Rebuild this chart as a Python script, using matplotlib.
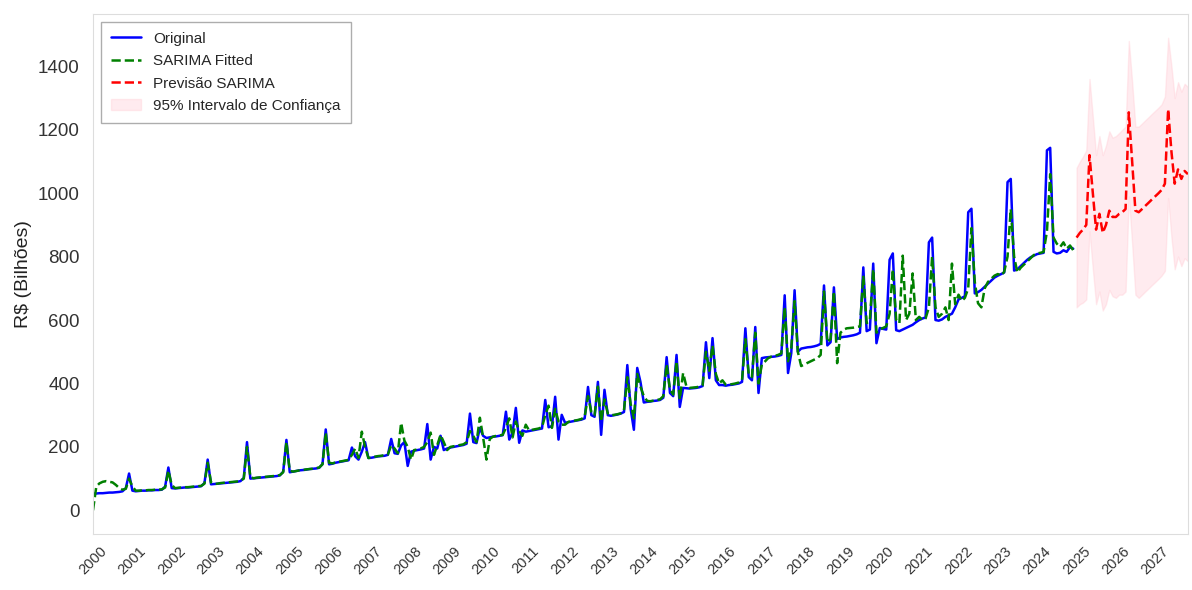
import matplotlib
matplotlib.use("Agg")
import matplotlib.pyplot as plt
import seaborn as sns
import pandas as pd

# monthly values, R$ billions, one row per year
original_values = [
    52, 53, 54, 54, 55, 56, 56, 57, 58, 60, 70, 116,            # 2000
    62, 60, 61, 62, 62, 63, 63, 64, 64, 65, 75, 135,            # 2001
    70, 69, 70, 71, 72, 72, 73, 74, 75, 76, 86, 160,            # 2002
    82, 83, 84, 85, 86, 87, 88, 89, 90, 92, 102, 215,           # 2003
    100, 101, 102, 103, 104, 105, 106, 107, 108, 110, 122, 222, # 2004
    120, 122, 124, 126, 127, 128, 130, 131, 132, 134, 146, 255, # 2005
    145, 147, 150, 152, 154, 156, 158, 198, 170, 160, 185, 215, # 2006
    165, 166, 168, 170, 171, 172, 175, 225, 180, 178, 205, 215, # 2007
    140, 185, 188, 190, 192, 195, 272, 160, 200, 195, 235, 190, # 2008
    195, 198, 200, 202, 204, 206, 210, 305, 215, 212, 260, 235, # 2009
    228, 230, 232, 233, 235, 237, 311, 223, 245, 323, 213, 252, # 2010
    248, 250, 252, 254, 256, 258, 348, 262, 265, 358, 223, 301, # 2011
    276, 278, 280, 282, 284, 286, 290, 389, 300, 295, 405, 238, # 2012
    380, 300, 298, 300, 302, 305, 310, 458, 320, 254, 449, 405, # 2013
    340, 342, 343, 345, 346, 348, 355, 483, 370, 360, 490, 326, # 2014
    386, 385, 384, 385, 386, 388, 392, 530, 417, 543, 410, 395, # 2015
    395, 393, 395, 396, 398, 400, 405, 574, 420, 410, 578, 370, # 2016
    480, 482, 483, 484, 485, 487, 490, 678, 433, 495, 694, 500, # 2017
    510, 512, 514, 515, 517, 520, 525, 709, 520, 530, 703, 540, # 2018
    545, 547, 548, 550, 552, 555, 560, 766, 565, 570, 778, 527, # 2019
    575, 572, 570, 790, 810, 568, 565, 570, 575, 580, 585, 593, # 2020
    600, 605, 608, 845, 860, 600, 598, 602, 610, 615, 620, 640, # 2021
    665, 670, 675, 940, 951, 684, 688, 695, 705, 715, 725, 734, # 2022
    740, 745, 750, 1035, 1045, 756, 760, 770, 780, 790, 798, 803, # 2023
    808, 810, 812, 1135, 1143, 815, 810, 812, 820, 815, 830, 825, # 2024
]

fitted_values = [
    0, 75, 85, 90, 92, 90, 88, 80, 70, 65, 68, 100,             # 2000
    75, 62, 62, 63, 63, 64, 64, 65, 65, 66, 72, 125,            # 2001
    80, 70, 71, 72, 73, 73, 74, 75, 76, 77, 84, 150,            # 2002
    88, 83, 84, 86, 87, 88, 89, 90, 91, 93, 100, 200,           # 2003
    105, 101, 103, 104, 105, 106, 107, 108, 109, 111, 120, 215, # 2004
    125, 122, 124, 126, 127, 129, 130, 131, 133, 135, 145, 245, # 2005
    150, 148, 151, 153, 155, 157, 159, 175, 195, 165, 248, 200, # 2006
    165, 166, 169, 171, 172, 174, 176, 205, 195, 180, 276, 220, # 2007
    200, 160, 190, 192, 195, 200, 215, 245, 175, 205, 238, 215, # 2008
    190, 200, 202, 204, 206, 208, 215, 250, 235, 215, 292, 230, # 2009
    160, 225, 232, 235, 236, 238, 260, 290, 230, 280, 250, 235, # 2010
    270, 252, 254, 256, 258, 262, 300, 330, 260, 320, 280, 270, # 2011
    270, 279, 281, 283, 285, 288, 295, 360, 310, 300, 390, 280, # 2012
    350, 305, 300, 301, 303, 306, 315, 420, 335, 290, 430, 390, # 2013
    360, 345, 344, 346, 348, 350, 360, 460, 380, 365, 470, 350, # 2014
    433, 390, 386, 387, 388, 390, 395, 500, 440, 520, 430, 400, # 2015
    410, 396, 396, 398, 400, 403, 410, 540, 430, 420, 560, 400, # 2016
    460, 470, 480, 485, 487, 490, 495, 640, 470, 510, 660, 500, # 2017
    455, 460, 465, 470, 475, 480, 490, 690, 530, 540, 690, 464, # 2018
    560, 570, 574, 575, 576, 578, 580, 740, 590, 600, 760, 560, # 2019
    570, 575, 580, 620, 760, 600, 590, 803, 600, 620, 747, 600, # 2020
    610, 600, 605, 640, 800, 640, 610, 620, 640, 600, 778, 650, # 2021
    680, 660, 670, 700, 890, 720, 653, 640, 700, 720, 730, 740, # 2022
    745, 740, 752, 800, 950, 800, 750, 765, 775, 785, 795, 805, # 2023
    810, 812, 815, 880, 1060, 860, 841, 830, 845, 825, 835, 820, # 2024
]

forecast_values = [
    860, 875, 885, 900, 1120, 1000, 885, 935, 875, 900, 945, 925,   # 2025
    925, 935, 940, 950, 1255, 1100, 945, 940, 950, 960, 970, 980,   # 2026
    990, 1000, 1010, 1030, 1265, 1130, 1030, 1075, 1045, 1070, 1060, # 2027
]
ci_lower = [
    640, 650, 655, 665, 880, 760, 650, 690, 630, 650, 695, 675,
    670, 680, 680, 690, 990, 840, 680, 670, 680, 690, 700, 710,
    720, 730, 740, 755, 985, 860, 760, 800, 770, 795, 785,
]
ci_upper = [
    1080, 1100, 1115, 1135, 1360, 1240, 1120, 1180, 1120, 1150, 1195, 1175,
    1180, 1190, 1200, 1210, 1480, 1350, 1210, 1210, 1220, 1230, 1240, 1250,
    1260, 1270, 1280, 1305, 1490, 1400, 1300, 1350, 1320, 1345, 1335,
]

dates = pd.date_range("2000-01-01", periods=len(original_values), freq="MS")
fc_dates = pd.date_range("2025-01-01", periods=len(forecast_values), freq="MS")
years = pd.date_range("2000-01-01", "2027-01-01", freq="YS")

sns.set_style("white")
plt.rcParams["font.family"] = ["Liberation Sans", "DejaVu Sans"]

fig = plt.figure(figsize=(11.92, 5.90), dpi=100)
ax = fig.add_axes([0.078, 0.095, 0.9186, 0.881])

ax.plot(dates, original_values, color="blue", lw=1.8, label="Original")
ax.plot(dates, fitted_values, color="green", lw=1.8, linestyle="--", label="SARIMA Fitted")
ax.plot(fc_dates, forecast_values, color="red", lw=1.8, linestyle="--", label="Previsão SARIMA")
ax.fill_between(fc_dates, ci_lower, ci_upper, color="pink", alpha=0.3,
                label="95% Intervalo de Confiança")

ax.set_xlim(dates[0], fc_dates[-1])
ax.set_xticks(years)
ax.set_xticklabels([str(d.year) for d in years], rotation=45, fontsize=10.5, color="#333333")
ax.tick_params(axis="y", labelsize=13.5, labelcolor="#333333", pad=6)
ax.set_ylabel("R$ (Bilhões)", fontsize=14, color="#222222")

for s in ax.spines.values():
    s.set_color("#dddddd")

ax.legend(loc="upper left", fontsize=11, frameon=True, edgecolor="#999999",
          fancybox=False, borderpad=0.65, labelspacing=0.55)

fig.savefig("out.png", dpi=100)
